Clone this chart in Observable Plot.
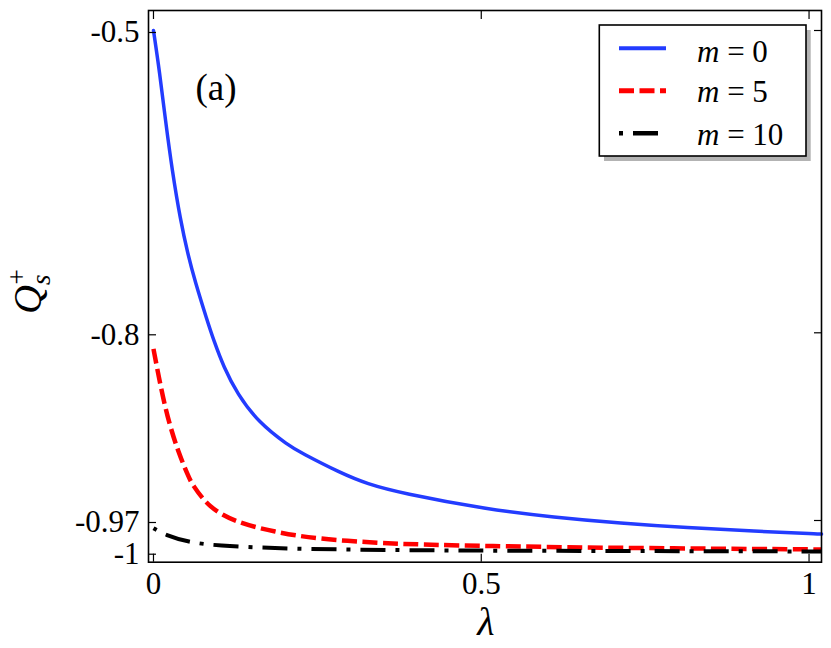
<!DOCTYPE html>
<html><head><meta charset="utf-8">
<script src="https://cdn.jsdelivr.net/npm/d3@7"></script>
<script src="https://cdn.jsdelivr.net/npm/@observablehq/plot@0.6"></script>
<style>body{margin:0;background:#fff} svg{display:block}</style>
</head><body><div id="chart"></div>
<script>
// m = 0
const lambda0 = [0, 0.0092, 0.0183, 0.0285, 0.0412, 0.0523, 0.063, 0.0819, 0.092, 0.1073, 0.1277, 0.1602, 0.206, 0.2243, 0.2853, 0.3261, 0.3769, 0.5092, 0.6109, 0.7127, 0.8144, 0.9161, 1.0153, 1.019];
const q0      = [-0.5, -0.5407, -0.5893, -0.6389, -0.6885, -0.7216, -0.7481, -0.7878, -0.807, -0.8312, -0.8552, -0.8812, -0.9021, -0.9084, -0.927, -0.9369, -0.9451, -0.96, -0.967, -0.9726, -0.9769, -0.9801, -0.9826, -0.9828];
// m = 5
const lambda5 = [0, 0.0081, 0.0209, 0.0386, 0.0539, 0.0585, 0.0839, 0.1247, 0.1857, 0.2467, 0.348, 0.4074, 0.5, 0.7, 1.019];
const q5      = [-0.8145, -0.8402, -0.8764, -0.9096, -0.9308, -0.9368, -0.958, -0.9716, -0.981, -0.9873, -0.9915, -0.9927, -0.9941, -0.996, -0.9974];
// m = 10
const lambda10 = [0, 0.0178, 0.0534, 0.094, 0.196, 0.4074, 0.7, 1.019];
const q10      = [-0.9773, -0.9837, -0.9905, -0.9937, -0.9968, -0.9984, -0.9989, -0.9993];

const xTicks = [0, 0.5, 1];
const yTicks = [-0.5, -0.8, -0.97, -1];
const seriesLabels = ["0", "5", "10"];
const seriesColors = ["#233cff", "#ff0000", "#000000"];
const seriesDash = [null, "15,5.5", "25,10,4,10"];
const seriesWidth = [3.5, 4.5, 4];

const toRows = (ls, qs) => ls.map((l, i) => ({l, q: qs[i]}));
const rows = [toRows(lambda0, q0), toRows(lambda5, q5), toRows(lambda10, q10)];

const serif = "'Liberation Serif', 'DejaVu Serif', 'Times New Roman', serif";

const plot = Plot.plot({
  width: 831, height: 648,
  marginLeft: 148, marginRight: 10, marginTop: 10, marginBottom: 86.3,
  style: {fontFamily: serif, fontSize: "31px", background: "white", color: "black", overflow: "visible"},
  x: {domain: [-0.0076, 1.019]},
  y: {type: "linear", domain: [-1.0095, -1, -0.97, -0.8, -0.5, -0.48], range: [561.7, 551.7, 520, 332.3, 30, 10]},
  marks: [
    Plot.line(rows[0], {x: "l", y: "q", stroke: seriesColors[0], strokeWidth: seriesWidth[0], curve: "basis"}),
    Plot.line(rows[1], {x: "l", y: "q", stroke: seriesColors[1], strokeWidth: seriesWidth[1], strokeDasharray: seriesDash[1], strokeLinecap: "butt", curve: "basis"}),
    Plot.line(rows[2], {x: "l", y: "q", stroke: seriesColors[2], strokeWidth: seriesWidth[2], strokeDasharray: seriesDash[2], strokeDashoffset: 35, strokeLinecap: "butt", curve: "basis"}),
    Plot.axisX({anchor: "bottom", ticks: xTicks, tickSize: -8, tickPadding: 18, strokeWidth: 1.2, tickFormat: d => String(d), label: null, fontSize: 31}),
    Plot.axisX({anchor: "top", ticks: xTicks, tickSize: -8, strokeWidth: 1.2, tickFormat: () => "", label: null}),
    Plot.axisY({anchor: "left", ticks: yTicks, tickSize: -8, tickPadding: 17, strokeWidth: 1.2, tickFormat: d => String(d), label: null, fontSize: 31, dy: 2}),
    Plot.axisY({anchor: "right", ticks: yTicks, tickSize: -8, strokeWidth: 1.2, tickFormat: () => "", label: null}),
    Plot.text(["(a)"], {frameAnchor: "top-left", dx: 47, dy: 89.5, lineAnchor: "bottom", textAnchor: "start", fontSize: 37, fontFamily: serif}),
    Plot.frame({stroke: "black", strokeWidth: 1.6})
  ]
});
document.getElementById("chart").appendChild(plot);

const svg = d3.select(plot);
// x label
svg.append("text").attr("x", 486).attr("y", 635).attr("text-anchor", "middle")
  .attr("font-family", serif).attr("font-style", "italic").attr("font-size", 40).text("λ");
// y label
const yl = svg.append("text").attr("transform", "translate(41,314) rotate(-90)").attr("text-anchor", "start")
  .attr("font-family", serif).attr("font-size", 40).attr("font-style", "italic");
yl.append("tspan").text("Q");
yl.append("tspan").attr("font-size", 27).attr("dy", 9).text("s");
yl.append("tspan").attr("font-size", 27).attr("font-style", "normal").attr("dx", -10).attr("dy", -24).text("+");

// legend
const lg = svg.append("g");
lg.append("rect").attr("x", 604).attr("y", 30).attr("width", 206.7).attr("height", 131).attr("fill", "#b3b3b3");
lg.append("rect").attr("x", 599.3).attr("y", 25).attr("width", 206.7).attr("height", 131).attr("fill", "white").attr("stroke", "black").attr("stroke-width", 1.6);
const rowY = [48.3, 90.7, 133.3];
const baseY = [61.5, 102, 145];
seriesLabels.forEach((lab, i) => {
  lg.append("line").attr("x1", 619).attr("x2", 666).attr("y1", rowY[i]).attr("y2", rowY[i])
    .attr("stroke", seriesColors[i]).attr("stroke-width", seriesWidth[i] + 0.5)
    .attr("stroke-dasharray", seriesDash[i]).attr("stroke-dashoffset", i === 2 ? 35 : 0);
  const t = lg.append("text").attr("x", 697).attr("y", baseY[i]).attr("text-anchor", "start")
    .attr("font-family", serif).attr("font-size", 31);
  t.append("tspan").attr("font-style", "italic").text("m");
  t.append("tspan").text(" = " + lab);
});
</script>
</body></html>
